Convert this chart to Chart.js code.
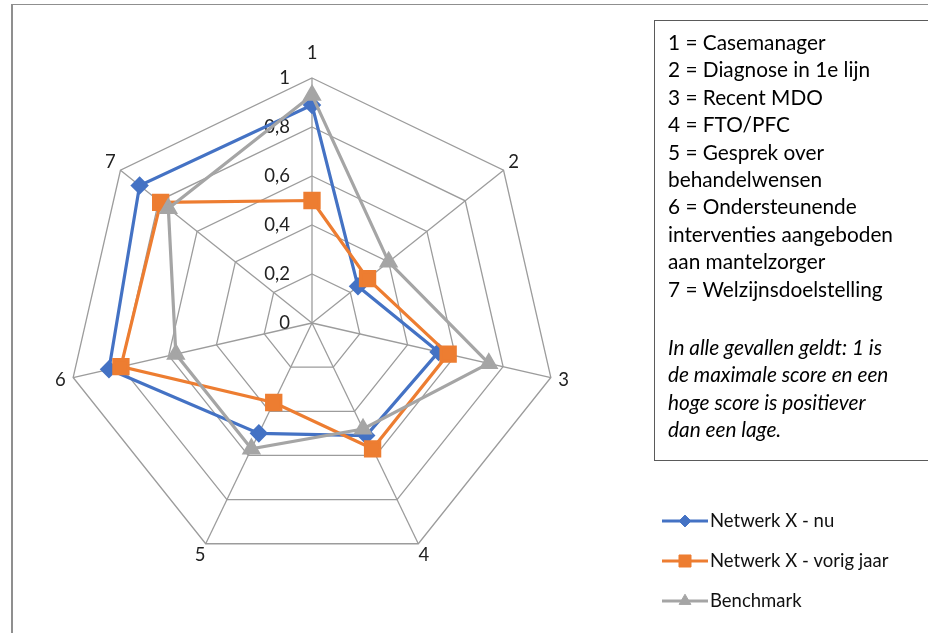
<!DOCTYPE html>
<html>
<head>
<meta charset="utf-8">
<script src="https://cdn.jsdelivr.net/npm/chart.js"></script>
<style>
  html, body { margin: 0; padding: 0; background: #fff; }
  #wrap { position: relative; width: 928px; height: 633px; overflow: hidden; }
  #frame { position: absolute; left: 11px; top: 4px; width: 1000px; height: 700px; border-left: 2px solid #8f8f8f; border-top: 1px solid #8f8f8f; }
  canvas { position: absolute; left: 0; top: 0; }
  #uitleg { position: absolute; left: 654px; top: 20px; width: 300px; height: 441px; border: 1px solid #5a5a5a;
    font-family: Lato, sans-serif; font-size: 20.8px; line-height: 27.4px; color: #000; padding: 7px 0 0 13px; box-sizing: border-box; }
  #uitleg p { margin: 0; }
  #uitleg .noot { font-style: italic; margin-top: 31px; }
</style>
</head>
<body>
<div id="wrap">
  <div id="frame"></div>
  <canvas id="radar" width="928" height="633"></canvas>
  <div id="uitleg">
    <p>1 = Casemanager</p>
    <p>2 = Diagnose in 1e lijn</p>
    <p>3 = Recent MDO</p>
    <p>4 = FTO/PFC</p>
    <p>5 = Gesprek over<br>behandelwensen</p>
    <p>6 = Ondersteunende<br>interventies aangeboden<br>aan mantelzorger</p>
    <p>7 = Welzijnsdoelstelling</p>
    <p class="noot">In alle gevallen geldt: 1 is<br>de maximale score en een<br>hoge score is positiever<br>dan een lage.</p>
  </div>
</div>
<script>
// assen 1 t/m 7
const categories = ['1', '2', '3', '4', '5', '6', '7'];
const tickValues = [0, 0.2, 0.4, 0.6, 0.8, 1];
const tickLabels = ['0', '0,2', '0,4', '0,6', '0,8', '1'];

// scores per as
const nu = [0.89, 0.24, 0.53, 0.51, 0.50, 0.85, 0.90];
const vorigJaar = [0.50, 0.29, 0.57, 0.57, 0.36, 0.80, 0.79];
const benchmark = [0.93, 0.40, 0.74, 0.48, 0.57, 0.57, 0.75];

const FONT = 'Lato, sans-serif';

// eigen labels: tick-tekst links van de as, aslabels buiten de hoekpunten, legenda rechtsonder
const labelPlugin = {
  id: 'radarLabels',
  beforeDatasetsDraw(chart) {
    const ctx = chart.ctx;
    const r = chart.scales.r;
    ctx.save();
    ctx.fillStyle = '#222';
    ctx.font = '18.5px ' + FONT;
    ctx.textAlign = 'right';
    ctx.textBaseline = 'middle';
    tickValues.forEach((v, i) => {
      ctx.fillText(tickLabels[i], r.xCenter - 22, r.yCenter - r.getDistanceFromCenterForValue(v));
    });
    ctx.textAlign = 'center';
    categories.forEach((c, i) => {
      const p = r.getPointPosition(i, r.drawingArea + (i === 0 ? 25 : 13));
      ctx.fillText(c, p.x, p.y);
    });
    ctx.restore();
  },
  afterDraw(chart) {
    const ctx = chart.ctx;
    ctx.save();
    chart.data.datasets.forEach((ds, i) => {
      const y = 521 + i * 40;
      ctx.strokeStyle = ds.borderColor;
      ctx.lineWidth = 3;
      ctx.beginPath();
      ctx.moveTo(662, y);
      ctx.lineTo(708, y);
      ctx.stroke();
      ctx.fillStyle = ds.borderColor;
      ctx.lineWidth = 1;
      Chart.helpers.drawPoint(ctx, { pointStyle: ds.pointStyle, radius: ds.pointRadius * 0.85, rotation: 0, borderWidth: 1 }, 685, y);
      ctx.fillStyle = '#111';
      ctx.font = '18.5px ' + FONT;
      ctx.textAlign = 'left';
      ctx.textBaseline = 'middle';
      ctx.fillText(ds.label, 710, y);
    });
    ctx.restore();
  }
};

new Chart(document.getElementById('radar').getContext('2d'), {
  type: 'radar',
  data: {
    labels: categories,
    datasets: [
      { label: 'Netwerk X - nu', data: nu, borderColor: '#4472C4', backgroundColor: '#4472C4',
        pointStyle: 'rectRot', pointRadius: 7, borderWidth: 3.2, fill: false, order: 2 },
      { label: 'Netwerk X - vorig jaar', data: vorigJaar, borderColor: '#ED7D31', backgroundColor: '#ED7D31',
        pointStyle: 'rect', pointRadius: 10, borderWidth: 3.2, fill: false, order: 1 },
      { label: 'Benchmark', data: benchmark, borderColor: '#A5A5A5', backgroundColor: '#A5A5A5',
        pointStyle: 'triangle', pointRadius: 8, borderWidth: 3.2, fill: false, order: 0 }
    ]
  },
  options: {
    responsive: false,
    animation: false,
    layout: { padding: { left: 67, top: 78, right: 371, bottom: 65 } },
    elements: { line: { tension: 0 }, point: { borderWidth: 1, hoverRadius: 8 } },
    scales: {
      r: {
        min: 0, max: 1,
        ticks: { stepSize: 0.2, display: false },
        pointLabels: { display: false },
        grid: { color: '#9c9c9c', lineWidth: 1.3 },
        angleLines: { color: '#9c9c9c', lineWidth: 1.3 }
      }
    },
    plugins: { legend: { display: false }, tooltip: { enabled: false } }
  },
  plugins: [labelPlugin]
});
</script>
</body>
</html>
